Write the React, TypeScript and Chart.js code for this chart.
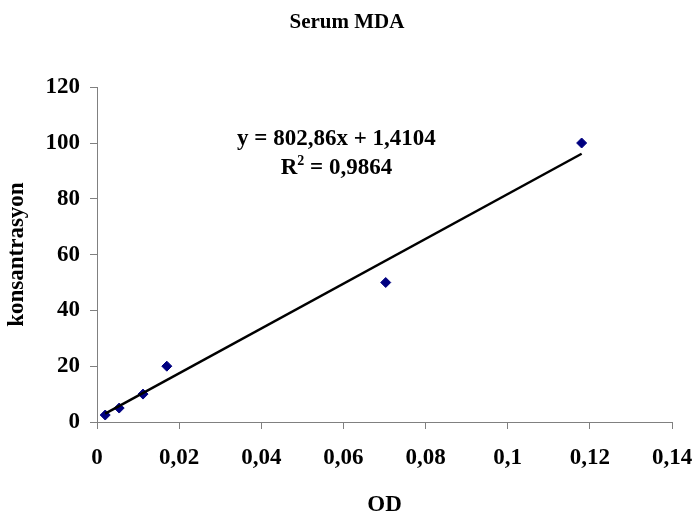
import React, { useEffect, useRef } from "react";
import { Chart, registerables } from "chart.js";

Chart.register(...registerables);

// Standard curve readings: optical density vs. MDA concentration
const odValues = [0.002, 0.0054, 0.0112, 0.017, 0.0703, 0.118];
const concentrationValues = [2.5, 5, 10, 20, 50, 100];

// Linear trendline reported for the standard curve
const trendSlope = 802.86;
const trendIntercept = 1.4104;
const equationText = "y = 802,86x + 1,4104";
const rSquaredText = "0,9864";

const chartTitle = "Serum MDA";
const xAxisTitle = "OD";
const yAxisTitle = "konsantrasyon";

const FONT_FAMILY = "'Liberation Serif', 'Times New Roman', Times, serif";
const AXIS_GRAY = "#808080";

const formatComma = (v: number) => String(+v.toFixed(2)).replace(".", ",");

// Draws the regression equation and R² (with a superscript 2) on the plot
const equationPlugin = {
  id: "equationLabel",
  afterDatasetsDraw(chart: any) {
    const { ctx, scales } = chart;
    const xs = scales.x;
    const ys = scales.y;
    const cx = xs.getPixelForValue(0.0583);
    const line1Y = ys.getPixelForValue(99.4);
    const line2Y = ys.getPixelForValue(89.0);
    const mainFont = `bold 23px ${FONT_FAMILY}`;
    const supFont = `bold 14px ${FONT_FAMILY}`;

    ctx.save();
    ctx.fillStyle = "#000";
    ctx.textBaseline = "alphabetic";
    ctx.font = mainFont;
    ctx.textAlign = "center";
    ctx.fillText(equationText, cx, line1Y);

    // second line: R² = value, centred as a whole
    ctx.textAlign = "left";
    const partR = "R";
    const partRest = " = " + rSquaredText;
    ctx.font = mainFont;
    const wR = ctx.measureText(partR).width;
    const wRest = ctx.measureText(partRest).width;
    ctx.font = supFont;
    const wSup = ctx.measureText("2").width;
    const total = wR + wSup + wRest;
    let px = cx - total / 2;
    ctx.font = mainFont;
    ctx.fillText(partR, px, line2Y);
    px += wR;
    ctx.font = supFont;
    ctx.fillText("2", px, line2Y - 9);
    px += wSup;
    ctx.font = mainFont;
    ctx.fillText(partRest, px, line2Y);
    ctx.restore();
  },
};

export default function App() {
  const canvasRef = useRef<HTMLCanvasElement | null>(null);

  useEffect(() => {
    if (!canvasRef.current) return;

    const points = odValues.map((x, i) => ({ x, y: concentrationValues[i] }));
    const xMin = Math.min(...odValues);
    const xMax = Math.max(...odValues);
    const trendPoints = [xMin, xMax].map((x) => ({ x, y: trendSlope * x + trendIntercept }));

    const chart = new Chart(canvasRef.current, {
      type: "scatter",
      data: {
        datasets: [
          {
            label: "Doğrusal",
            data: trendPoints,
            showLine: true,
            borderColor: "#000000",
            borderWidth: 2.5,
            pointRadius: 0,
            fill: false,
          },
          {
            label: "konsantrasyon",
            data: points,
            pointStyle: "rectRot",
            pointRadius: 5,
            pointBorderWidth: 1,
            backgroundColor: "#000080",
            borderColor: "#000080",
          },
        ],
      },
      options: {
        responsive: false,
        animation: false,
        layout: { padding: 0 },
        plugins: {
          legend: { display: false },
          tooltip: { enabled: false },
          title: {
            display: true,
            text: chartTitle,
            color: "#000",
            font: { family: FONT_FAMILY, size: 21, weight: "bold", lineHeight: 1.2 },
            padding: { top: 10, bottom: 52 },
          },
        },
        scales: {
          x: {
            type: "linear",
            min: 0,
            max: 0.14,
            afterFit: (scale: any) => {
              scale.height = 93;
              scale.paddingLeft = 0;
              scale.paddingRight = 22;
            },
            ticks: {
              stepSize: 0.02,
              color: "#000",
              padding: 15,
              maxRotation: 0,
              font: { family: FONT_FAMILY, size: 23, weight: "bold" },
              callback: (v: any) => formatComma(Number(v)),
            },
            grid: {
              drawOnChartArea: false,
              drawTicks: true,
              tickLength: 7,
              color: AXIS_GRAY,
            },
            border: { display: true, color: AXIS_GRAY, width: 1 },
            title: {
              display: true,
              text: xAxisTitle,
              color: "#000",
              font: { family: FONT_FAMILY, size: 23, weight: "bold", lineHeight: 0.8 },
              padding: { top: 0, bottom: 1 },
            },
          },
          y: {
            type: "linear",
            min: 0,
            max: 120,
            afterFit: (scale: any) => {
              scale.width = 97;
            },
            ticks: {
              stepSize: 20,
              color: "#000",
              padding: 10,
              font: { family: FONT_FAMILY, size: 23, weight: "bold" },
              callback: (v: any) => formatComma(Number(v)),
            },
            grid: {
              drawOnChartArea: false,
              drawTicks: true,
              tickLength: 7,
              color: AXIS_GRAY,
            },
            border: { display: true, color: AXIS_GRAY, width: 1 },
            title: {
              display: true,
              text: yAxisTitle,
              color: "#000",
              font: { family: FONT_FAMILY, size: 23, weight: "bold", lineHeight: 1 },
              padding: { top: 6, bottom: 0 },
            },
          },
        },
      },
      plugins: [equationPlugin],
    });

    return () => chart.destroy();
  }, []);

  return (
    <div style={{ position: "absolute", left: 0, top: 0, width: 694, height: 515, background: "#fff" }}>
      <canvas ref={canvasRef} width={694} height={515} />
    </div>
  );
}
